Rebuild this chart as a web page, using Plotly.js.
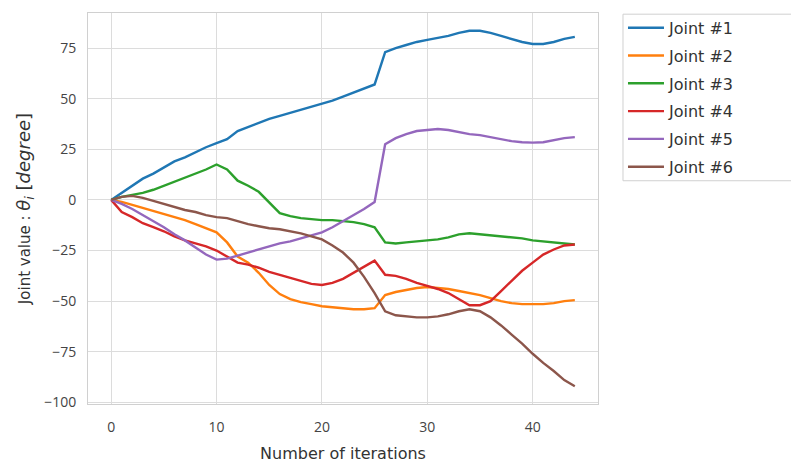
<!DOCTYPE html>
<html><head><meta charset="utf-8">
<script src="https://cdn.plot.ly/plotly-3.0.1.min.js"></script>
<style>html,body{margin:0;padding:0;background:#fff}#c{width:791px;height:466px}</style>
</head><body><div id="c"></div>
<script>
const iterations = Array.from({length:45},(_, i)=>i);
const seriesNames = ["Joint #1","Joint #2","Joint #3","Joint #4","Joint #5","Joint #6"];
const joint1 = [0,3.5,7,10.5,13,16,19,21,23.5,26,28,30,34,36,38,40,41.5,43,44.5,46,47.5,49,51,53,55,57,73,75,76.5,78,79,80,81,82.5,83.5,83.5,82.5,81,79.5,78,77,77,78,79.5,80.5];
const joint2 = [0,-1,-2.5,-4,-5.5,-7,-8.5,-10,-12,-14,-16,-21,-28,-31,-36,-42,-46.5,-49,-50.5,-51.5,-52.5,-53,-53.5,-54,-54,-53.5,-47,-45.5,-44.5,-43.5,-43,-43.5,-44,-45,-46,-47,-48.5,-50,-51,-51.5,-51.5,-51.5,-51,-50,-49.5];
const joint3 = [0,1.5,2.5,3.5,5,7,9,11,13,15,17.5,15,9.5,7,4,-1.5,-6.5,-8,-9,-9.5,-10,-10,-10.5,-11,-12,-13.5,-21,-21.5,-21,-20.5,-20,-19.5,-18.5,-17,-16.5,-17,-17.5,-18,-18.5,-19,-20,-20.5,-21,-21.5,-22];
const joint4 = [0,-6,-8.5,-11.5,-13.5,-15.5,-18,-20,-21.5,-23,-25,-28,-31,-32,-33.5,-35.5,-37,-38.5,-40,-41.5,-42,-41,-39,-36,-33,-30,-37,-37.5,-39,-41,-42.5,-44,-46,-49,-52,-52,-50,-45,-40,-35,-31,-27,-24.5,-22.5,-22];
const joint5 = [0,-2,-4.5,-7.5,-10.5,-13.5,-17,-20,-23.5,-27,-29.5,-29,-27.5,-26,-24.5,-23,-21.5,-20.5,-19,-17.5,-16,-13.5,-10.5,-7.5,-4.5,-1,27.5,30.5,32.5,34,34.5,35,34.5,33.5,32.5,32,31,30,29,28.5,28.3,28.5,29.5,30.5,31];
const joint6 = [0,1.5,2,1,-0.5,-2,-3.5,-5,-6,-7.5,-8.5,-9,-10.5,-12,-13,-14,-14.5,-15.5,-16.5,-18,-19.5,-22.5,-26,-31,-38,-46,-55,-57,-57.5,-58,-58,-57.5,-56.5,-55,-54,-55,-58,-62,-66.5,-71,-76,-80.5,-84.5,-89,-92];
const yTicks = [-100,-75,-50,-25,0,25,50,75];
const xTicks = [0,10,20,30,40];
const colors = ["#1f77b4","#ff7f0e","#2ca02c","#d62728","#9467bd","#8c564b"];
const allY = [joint1,joint2,joint3,joint4,joint5,joint6];

const traces = allY.map((ys,k)=>({
  x: iterations, y: ys, type:'scatter', mode:'lines', name: seriesNames[k],
  legendgroup: 'g'+k,
  line:{color:colors[k], width:2.4}
}));

const font = "'Open Sans', 'Noto Sans', sans-serif";
const dj = "'DejaVu Sans', sans-serif";
const layout = {
  width:791, height:466,
  margin:{l:88, r:193, t:12, b:62},
  paper_bgcolor:'#fff', plot_bgcolor:'#fff',
  font:{family:font, size:14, color:'#333'},
  showlegend:true,
  legend:{x:1.049, y:1.003, xanchor:'left', yanchor:'top', borderwidth:0, bgcolor:'rgba(0,0,0,0)',
          font:{family:dj, size:16, color:'#333'}, tracegroupgap:4, itemwidth:36},
  shapes:[{type:'rect', xref:'paper', yref:'paper', x0:1.049, x1:1.40, y0:0.571, y1:0.997,
           line:{color:'#d0d0d0', width:1}, fillcolor:'rgba(0,0,0,0)', layer:'below'}],
  xaxis:{range:[-2.2,46.2], tickvals:xTicks, ticks:'', showgrid:true, gridcolor:'#dcdcdc', gridwidth:1,
         zeroline:false, showline:true, linecolor:'#d0d0d0', mirror:true, ticklabelstandoff:10,
         tickfont:{size:14, color:'#444'},
         title:{text:'Number of iterations', font:{family:dj, size:16, color:'#333'}, standoff:13}},
  yaxis:{range:[-100.8,92.3], tickvals:yTicks, ticktext:yTicks.map(v=>v<0?'\u2212'+Math.abs(v):String(v)),
         ticks:'', showgrid:true, gridcolor:'#dcdcdc', gridwidth:1, ticklabelstandoff:8,
         zeroline:false, showline:true, linecolor:'#d0d0d0', mirror:true,
         tickfont:{size:14, color:'#444'},
         title:{text:'Joint value : <span style="font-size:18px"><i>θ</i><sub><i>i</i></sub> [<i>degree</i>]</span>', font:{family:dj, size:15, color:'#333'}, standoff:9}}
};
Plotly.newPlot('c', traces, layout, {displayModeBar:false, staticPlot:true});
</script></body></html>
